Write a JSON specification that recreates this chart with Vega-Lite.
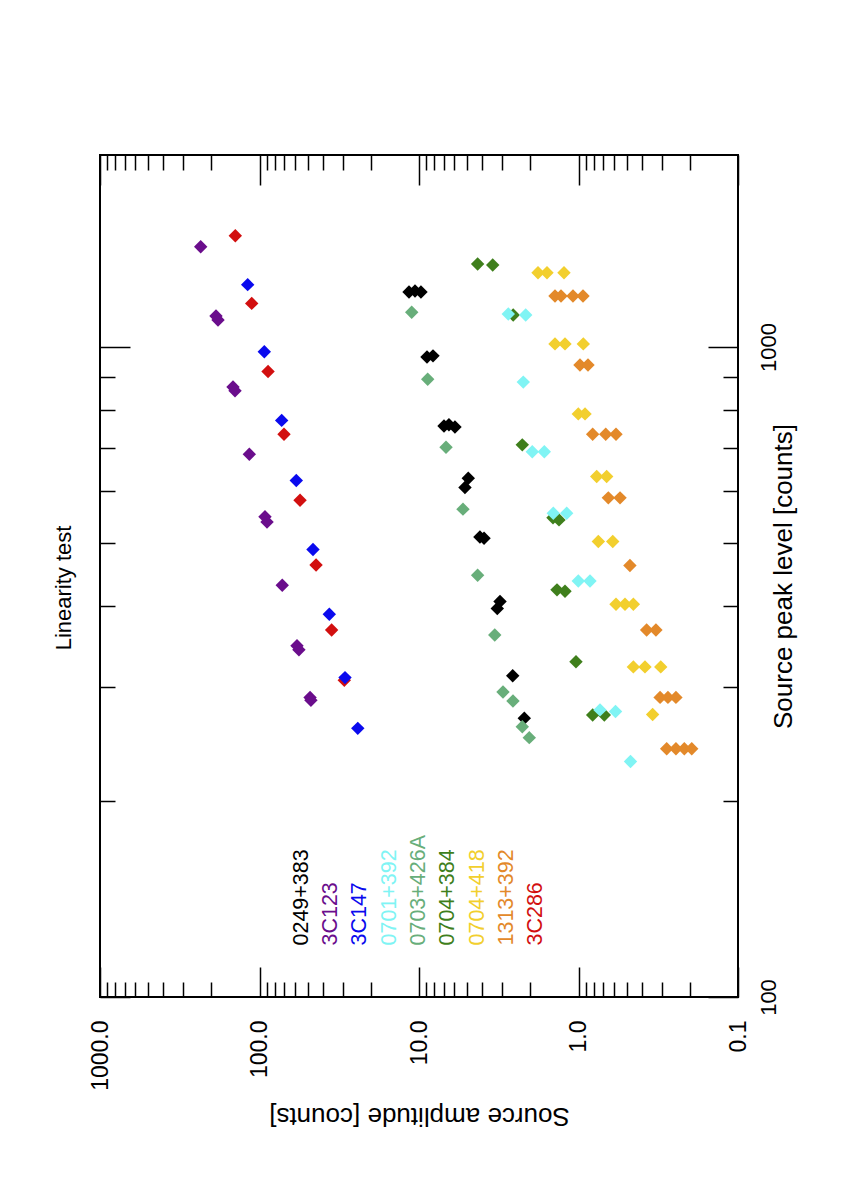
{
  "$schema": "https://vega.github.io/schema/vega-lite/v6.json",
  "width": 638,
  "height": 842,
  "autosize": {"type": "none"},
  "padding": {"left": 100, "top": 155, "right": 110, "bottom": 203},
  "background": "white",
  "title": {
    "text": "Linearity test",
    "orient": "left",
    "anchor": "middle",
    "fontSize": 22,
    "fontWeight": "normal",
    "color": "black",
    "offset": 13,
    "dx": -12
  },
  "datasets": {
    "points": [
      {"source": "3C123", "amplitude": 233.7, "peak": 1426},
      {"source": "3C123", "amplitude": 187.4, "peak": 1116},
      {"source": "3C123", "amplitude": 182.0, "peak": 1100},
      {"source": "3C123", "amplitude": 146.6, "peak": 868},
      {"source": "3C123", "amplitude": 142.4, "peak": 856},
      {"source": "3C123", "amplitude": 115.8, "peak": 684},
      {"source": "3C123", "amplitude": 92.4, "peak": 548},
      {"source": "3C123", "amplitude": 89.7, "peak": 538},
      {"source": "3C123", "amplitude": 72.0, "peak": 430},
      {"source": "3C123", "amplitude": 58.2, "peak": 347},
      {"source": "3C123", "amplitude": 56.6, "peak": 342},
      {"source": "3C123", "amplitude": 48.2, "peak": 289},
      {"source": "3C123", "amplitude": 47.6, "peak": 286},
      {"source": "3C286", "amplitude": 141.8, "peak": 1483},
      {"source": "3C286", "amplitude": 111.9, "peak": 1167},
      {"source": "3C286", "amplitude": 88.4, "peak": 917},
      {"source": "3C286", "amplitude": 70.2, "peak": 734},
      {"source": "3C286", "amplitude": 55.7, "peak": 581},
      {"source": "3C286", "amplitude": 44.2, "peak": 462},
      {"source": "3C286", "amplitude": 35.3, "peak": 367},
      {"source": "3C286", "amplitude": 29.4, "peak": 307},
      {"source": "3C147", "amplitude": 118.6, "peak": 1247},
      {"source": "3C147", "amplitude": 93.3, "peak": 983},
      {"source": "3C147", "amplitude": 72.6, "peak": 771},
      {"source": "3C147", "amplitude": 58.8, "peak": 623},
      {"source": "3C147", "amplitude": 46.2, "peak": 488},
      {"source": "3C147", "amplitude": 36.5, "peak": 388},
      {"source": "3C147", "amplitude": 29.1, "peak": 310},
      {"source": "3C147", "amplitude": 24.2, "peak": 259},
      {"source": "0249+383", "amplitude": 11.55, "peak": 1215},
      {"source": "0249+383", "amplitude": 10.59, "peak": 1219},
      {"source": "0249+383", "amplitude": 9.72, "peak": 1215},
      {"source": "0249+383", "amplitude": 8.91, "peak": 965},
      {"source": "0249+383", "amplitude": 8.17, "peak": 969},
      {"source": "0249+383", "amplitude": 6.97, "peak": 756},
      {"source": "0249+383", "amplitude": 6.49, "peak": 759},
      {"source": "0249+383", "amplitude": 5.95, "peak": 753},
      {"source": "0249+383", "amplitude": 4.91, "peak": 628},
      {"source": "0249+383", "amplitude": 5.15, "peak": 608},
      {"source": "0249+383", "amplitude": 4.15, "peak": 510},
      {"source": "0249+383", "amplitude": 3.91, "peak": 508},
      {"source": "0249+383", "amplitude": 3.105, "peak": 406},
      {"source": "0249+383", "amplitude": 3.23, "peak": 396},
      {"source": "0249+383", "amplitude": 2.585, "peak": 312},
      {"source": "0249+383", "amplitude": 2.187, "peak": 268.5},
      {"source": "0703+426A", "amplitude": 11.11, "peak": 1131},
      {"source": "0703+426A", "amplitude": 8.82, "peak": 892},
      {"source": "0703+426A", "amplitude": 6.77, "peak": 701},
      {"source": "0703+426A", "amplitude": 5.30, "peak": 563},
      {"source": "0703+426A", "amplitude": 4.29, "peak": 445.5},
      {"source": "0703+426A", "amplitude": 3.35, "peak": 360.6},
      {"source": "0703+426A", "amplitude": 2.974, "peak": 294.6},
      {"source": "0703+426A", "amplitude": 2.575, "peak": 285.3},
      {"source": "0703+426A", "amplitude": 2.251, "peak": 260.5},
      {"source": "0703+426A", "amplitude": 2.035, "peak": 250.6},
      {"source": "0704+384", "amplitude": 4.29, "peak": 1342},
      {"source": "0704+384", "amplitude": 3.45, "peak": 1337},
      {"source": "0704+384", "amplitude": 2.567, "peak": 1120},
      {"source": "0704+384", "amplitude": 2.251, "peak": 707},
      {"source": "0704+384", "amplitude": 1.445, "peak": 546},
      {"source": "0704+384", "amplitude": 1.325, "peak": 542},
      {"source": "0704+384", "amplitude": 1.364, "peak": 423},
      {"source": "0704+384", "amplitude": 1.215, "peak": 421},
      {"source": "0704+384", "amplitude": 1.037, "peak": 328},
      {"source": "0704+384", "amplitude": 0.815, "peak": 271.6},
      {"source": "0704+384", "amplitude": 0.689, "peak": 271.6},
      {"source": "0701+392", "amplitude": 2.755, "peak": 1124},
      {"source": "0701+392", "amplitude": 2.143, "peak": 1120},
      {"source": "0701+392", "amplitude": 2.219, "peak": 883},
      {"source": "0701+392", "amplitude": 1.949, "peak": 690},
      {"source": "0701+392", "amplitude": 1.638, "peak": 690},
      {"source": "0701+392", "amplitude": 1.439, "peak": 555},
      {"source": "0701+392", "amplitude": 1.186, "peak": 555},
      {"source": "0701+392", "amplitude": 1.003, "peak": 436.5},
      {"source": "0701+392", "amplitude": 0.847, "peak": 436.5},
      {"source": "0701+392", "amplitude": 0.733, "peak": 276.5},
      {"source": "0701+392", "amplitude": 0.586, "peak": 275},
      {"source": "0701+392", "amplitude": 0.472, "peak": 230.3},
      {"source": "0704+418", "amplitude": 1.794, "peak": 1301},
      {"source": "0704+418", "amplitude": 1.576, "peak": 1301},
      {"source": "0704+418", "amplitude": 1.233, "peak": 1301},
      {"source": "0704+418", "amplitude": 1.404, "peak": 1011},
      {"source": "0704+418", "amplitude": 1.215, "peak": 1011},
      {"source": "0704+418", "amplitude": 0.933, "peak": 1011},
      {"source": "0704+418", "amplitude": 1.003, "peak": 789},
      {"source": "0704+418", "amplitude": 0.910, "peak": 789},
      {"source": "0704+418", "amplitude": 0.769, "peak": 632},
      {"source": "0704+418", "amplitude": 0.666, "peak": 632},
      {"source": "0704+418", "amplitude": 0.751, "peak": 502},
      {"source": "0704+418", "amplitude": 0.610, "peak": 502},
      {"source": "0704+418", "amplitude": 0.582, "peak": 402},
      {"source": "0704+418", "amplitude": 0.511, "peak": 402},
      {"source": "0704+418", "amplitude": 0.453, "peak": 402},
      {"source": "0704+418", "amplitude": 0.453, "peak": 322},
      {"source": "0704+418", "amplitude": 0.383, "peak": 322},
      {"source": "0704+418", "amplitude": 0.305, "peak": 322},
      {"source": "0704+418", "amplitude": 0.343, "peak": 272},
      {"source": "1313+392", "amplitude": 1.404, "peak": 1198},
      {"source": "1313+392", "amplitude": 1.287, "peak": 1198},
      {"source": "1313+392", "amplitude": 1.083, "peak": 1198},
      {"source": "1313+392", "amplitude": 0.937, "peak": 1198},
      {"source": "1313+392", "amplitude": 0.979, "peak": 938},
      {"source": "1313+392", "amplitude": 0.872, "peak": 938},
      {"source": "1313+392", "amplitude": 0.815, "peak": 734},
      {"source": "1313+392", "amplitude": 0.675, "peak": 734},
      {"source": "1313+392", "amplitude": 0.582, "peak": 734},
      {"source": "1313+392", "amplitude": 0.650, "peak": 586},
      {"source": "1313+392", "amplitude": 0.549, "peak": 586},
      {"source": "1313+392", "amplitude": 0.476, "peak": 461},
      {"source": "1313+392", "amplitude": 0.374, "peak": 367},
      {"source": "1313+392", "amplitude": 0.327, "peak": 367},
      {"source": "1313+392", "amplitude": 0.308, "peak": 289},
      {"source": "1313+392", "amplitude": 0.275, "peak": 289},
      {"source": "1313+392", "amplitude": 0.245, "peak": 289},
      {"source": "1313+392", "amplitude": 0.280, "peak": 241},
      {"source": "1313+392", "amplitude": 0.245, "peak": 241},
      {"source": "1313+392", "amplitude": 0.217, "peak": 241},
      {"source": "1313+392", "amplitude": 0.195, "peak": 241}
    ],
    "legend": [
      {"source": "0249+383"},
      {"source": "3C123"},
      {"source": "3C147"},
      {"source": "0701+392"},
      {"source": "0703+426A"},
      {"source": "0704+384"},
      {"source": "0704+418"},
      {"source": "1313+392"},
      {"source": "3C286"}
    ]
  },
  "resolve": {
    "scale": {"x": "independent"},
    "axis": {"x": "independent", "y": "independent"}
  },
  "layer": [
    {
      "data": {"name": "points"},
      "mark": {"type": "point", "shape": "diamond", "filled": true, "size": 180, "opacity": 1},
      "encoding": {
        "x": {
          "field": "amplitude",
          "type": "quantitative",
          "scale": {"type": "log", "domain": [0.1, 1000], "reverse": true, "nice": false},
          "axis": {
            "orient": "bottom",
            "values": [0.1, 0.2, 0.3, 0.4, 0.5, 0.6, 0.7, 0.8, 0.9, 1, 2, 3, 4, 5, 6, 7, 8, 9, 10, 20, 30, 40, 50, 60, 70, 80, 90, 100, 200, 300, 400, 500, 600, 700, 800, 900, 1000],
            "domain": false,
            "grid": false,
            "tickColor": "black",
            "tickWidth": 1.5,
            "tickSize": {"condition": {"test": "abs(log(datum.value)/LN10 - round(log(datum.value)/LN10)) < 0.001", "value": -30}, "value": -15},
            "labelExpr": "abs(log(datum.value)/LN10 - round(log(datum.value)/LN10)) < 0.001 ? format(datum.value, '.1f') : ''",
            "labelAngle": 270,
            "labelAlign": "right",
            "labelBaseline": "middle",
            "labelPadding": 53,
            "labelFontSize": 23,
            "labelColor": "black",
            "labelFlush": false,
            "labelOverlap": false,
            "labelBound": false,
            "title": "Source amplitude [counts]",
            "titleAngle": 180,
            "titleFontSize": 26,
            "titleFontWeight": "normal",
            "titleColor": "black",
            "titlePadding": 38
          }
        },
        "y": {
          "field": "peak",
          "type": "quantitative",
          "scale": {"type": "log", "domain": [100, 1974], "nice": false},
          "axis": {
            "orient": "right",
            "values": [100, 200, 300, 400, 500, 600, 700, 800, 900, 1000],
            "domain": false,
            "grid": false,
            "tickColor": "black",
            "tickWidth": 1.5,
            "tickSize": {"condition": {"test": "abs(log(datum.value)/LN10 - round(log(datum.value)/LN10)) < 0.001", "value": -30}, "value": -15},
            "labelExpr": "abs(log(datum.value)/LN10 - round(log(datum.value)/LN10)) < 0.001 ? format(datum.value, 'd') : ''",
            "labelAngle": 270,
            "labelAlign": "center",
            "labelBaseline": "top",
            "labelPadding": 50,
            "labelFontSize": 22,
            "labelColor": "black",
            "labelFlush": false,
            "labelOverlap": false,
            "labelBound": false,
            "title": "Source peak level [counts]",
            "titleAngle": 270,
            "titleFontSize": 26,
            "titleFontWeight": "normal",
            "titleColor": "black",
            "titlePadding": 2
          }
        },
        "color": {
          "field": "source",
          "type": "nominal",
          "scale": {
            "domain": ["0249+383", "3C123", "3C147", "0701+392", "0703+426A", "0704+384", "0704+418", "1313+392", "3C286"],
            "range": ["#000000", "#6a0d8c", "#0a0aee", "#80f4f4", "#68ae7a", "#3f7f1c", "#f2cf2e", "#e3892a", "#d20f0f"]
          },
          "legend": null
        }
      }
    },
    {
      "data": {"name": "points"},
      "mark": {"type": "point", "opacity": 0},
      "encoding": {
        "x": {
          "field": "amplitude",
          "type": "quantitative",
          "scale": {"type": "log", "domain": [0.1, 1000], "reverse": true, "nice": false},
          "axis": {
            "orient": "top",
            "values": [0.1, 0.2, 0.3, 0.4, 0.5, 0.6, 0.7, 0.8, 0.9, 1, 2, 3, 4, 5, 6, 7, 8, 9, 10, 20, 30, 40, 50, 60, 70, 80, 90, 100, 200, 300, 400, 500, 600, 700, 800, 900, 1000],
            "domain": false,
            "grid": false,
            "labels": false,
            "tickColor": "black",
            "tickWidth": 1.5,
            "tickSize": {"condition": {"test": "abs(log(datum.value)/LN10 - round(log(datum.value)/LN10)) < 0.001", "value": -30}, "value": -15},
            "title": null
          }
        },
        "y": {
          "field": "peak",
          "type": "quantitative",
          "axis": {
            "orient": "left",
            "values": [100, 200, 300, 400, 500, 600, 700, 800, 900, 1000],
            "domain": false,
            "grid": false,
            "labels": false,
            "tickColor": "black",
            "tickWidth": 1.5,
            "tickSize": {"condition": {"test": "abs(log(datum.value)/LN10 - round(log(datum.value)/LN10)) < 0.001", "value": -30}, "value": -15},
            "title": null
          }
        }
      }
    },
    {
      "data": {"name": "legend"},
      "mark": {"type": "text", "angle": 270, "align": "left", "baseline": "middle", "fontSize": 21.5},
      "encoding": {
        "x": {
          "field": "source",
          "type": "nominal",
          "sort": null,
          "scale": {"type": "point", "domain": ["0249+383", "3C123", "3C147", "0701+392", "0703+426A", "0704+384", "0704+418", "1313+392", "3C286"], "range": [187, 451]},
          "axis": null
        },
        "y": {"datum": 120, "type": "quantitative", "axis": null},
        "text": {"field": "source"},
        "color": {"field": "source", "type": "nominal", "legend": null}
      }
    }
  ],
  "config": {
    "font": "Liberation Sans",
    "view": {"stroke": "black", "strokeWidth": 2}
  }
}
